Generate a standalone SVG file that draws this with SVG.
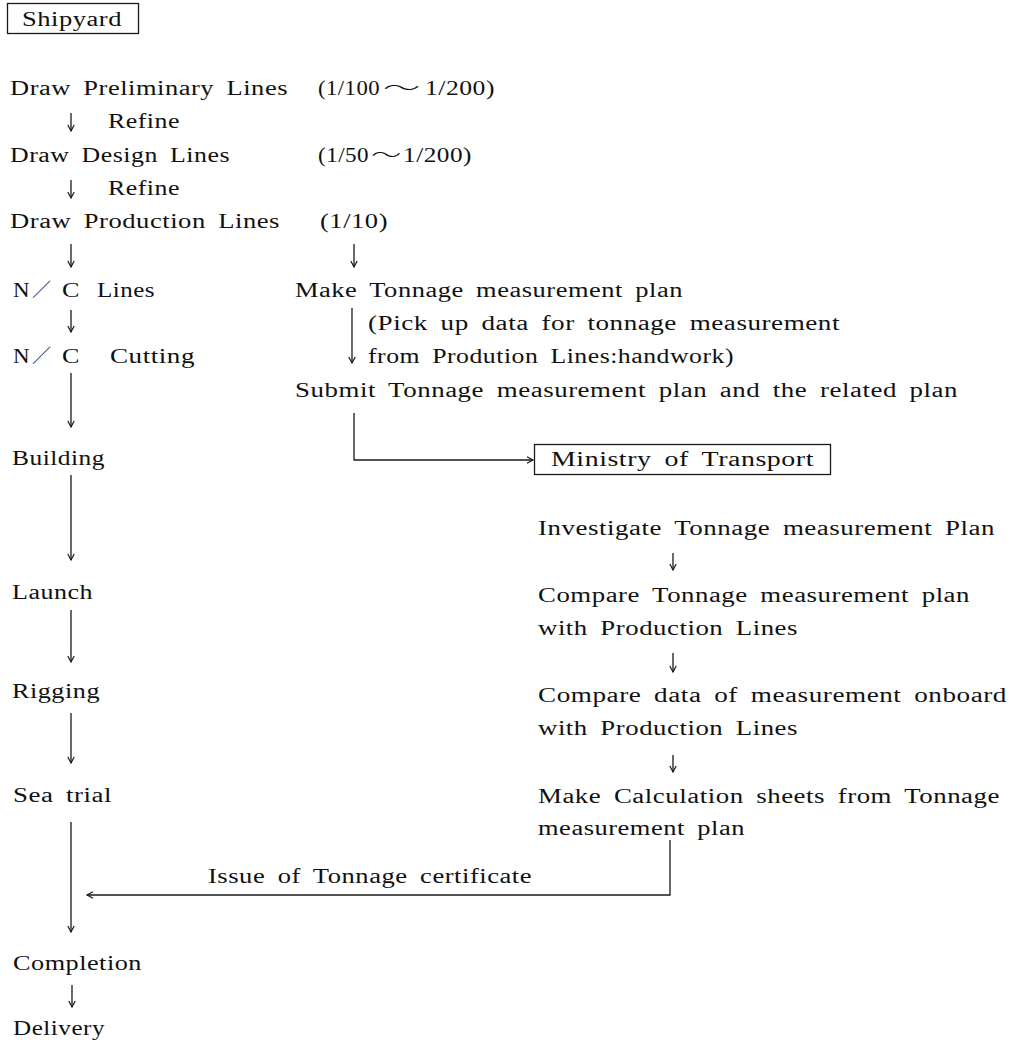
<svg xmlns="http://www.w3.org/2000/svg" width="1012" height="1045" viewBox="0 0 1012 1045">
<defs>
<style>
.t{font-family:"Liberation Serif","Times New Roman","Noto Sans CJK JP",serif;font-size:20px;fill:#111;word-spacing:4px;letter-spacing:0.4px}
.w{font-family:"Noto Sans CJK JP","Liberation Serif",serif;font-size:19px;fill:#111;font-weight:300}
.c{fill:none;stroke:#1a1a1a;stroke-width:1.3}
.box{fill:#fff;stroke:#1a1a1a;stroke-width:1.3}
</style>
<marker id="ah" viewBox="-8 -5 10 10" refX="0" refY="0" markerWidth="10" markerHeight="10" markerUnits="userSpaceOnUse" orient="auto" overflow="visible">
<path d="M-6,-3.2 L0,0 L-6,3.2" fill="none" stroke="#1a1a1a" stroke-width="1.2"/>
</marker>
</defs>
<rect width="1012" height="1045" fill="#fff"/>

<g id="connectors">
<line class="c" x1="71" y1="113" x2="71" y2="131" marker-end="url(#ah)"/>
<line class="c" x1="71" y1="180" x2="71" y2="198" marker-end="url(#ah)"/>
<line class="c" x1="71" y1="244" x2="71" y2="267" marker-end="url(#ah)"/>
<line class="c" x1="354" y1="244" x2="354" y2="267" marker-end="url(#ah)"/>
<line class="c" x1="71" y1="310" x2="71" y2="332" marker-end="url(#ah)"/>
<line class="c" x1="352" y1="308" x2="352" y2="363" marker-end="url(#ah)"/>
<line class="c" x1="71" y1="373" x2="71" y2="427" marker-end="url(#ah)"/>
<path class="c" d="M354,413 V460 H533" marker-end="url(#ah)"/>
<line class="c" x1="71" y1="475" x2="71" y2="560" marker-end="url(#ah)"/>
<line class="c" x1="71" y1="610" x2="71" y2="662" marker-end="url(#ah)"/>
<line class="c" x1="71" y1="713" x2="71" y2="763" marker-end="url(#ah)"/>
<line class="c" x1="71" y1="822" x2="71" y2="932" marker-end="url(#ah)"/>
<path class="c" d="M670,840 V895 H87" marker-end="url(#ah)"/>
<line class="c" x1="72" y1="985" x2="72" y2="1007" marker-end="url(#ah)"/>
<line class="c" x1="673" y1="553" x2="673" y2="570" marker-end="url(#ah)"/>
<line class="c" x1="673" y1="653" x2="673" y2="672" marker-end="url(#ah)"/>
<line class="c" x1="673" y1="755" x2="673" y2="772" marker-end="url(#ah)"/>
</g>

<g id="shipyard">
<rect class="box" x="7.5" y="3.5" width="131" height="30"/>
<text class="t" x="22" y="26" textLength="100" lengthAdjust="spacingAndGlyphs">Shipyard</text>
</g>

<g id="preliminary">
<text class="t" x="10" y="95" textLength="278" lengthAdjust="spacingAndGlyphs">Draw Preliminary Lines</text>
<text class="t" y="95"><tspan x="318" textLength="62" lengthAdjust="spacingAndGlyphs">(1/100</tspan><tspan class="w" x="383" textLength="38" lengthAdjust="spacingAndGlyphs">～</tspan><tspan x="425" textLength="70" lengthAdjust="spacingAndGlyphs">1/200)</tspan></text>
</g>
<g id="refine1"><text class="t" x="108" y="128" textLength="72" lengthAdjust="spacingAndGlyphs">Refine</text></g>

<g id="design">
<text class="t" x="10" y="162" textLength="220" lengthAdjust="spacingAndGlyphs">Draw Design Lines</text>
<text class="t" y="162"><tspan x="318" textLength="51" lengthAdjust="spacingAndGlyphs">(1/50</tspan><tspan class="w" x="371" textLength="31" lengthAdjust="spacingAndGlyphs">～</tspan><tspan x="403" textLength="69" lengthAdjust="spacingAndGlyphs">1/200)</tspan></text>
</g>
<g id="refine2"><text class="t" x="108" y="195" textLength="72" lengthAdjust="spacingAndGlyphs">Refine</text></g>

<g id="production">
<text class="t" x="10" y="228" textLength="270" lengthAdjust="spacingAndGlyphs">Draw Production Lines</text>
<text class="t" x="320" y="228" textLength="68" lengthAdjust="spacingAndGlyphs">(1/10)</text>
</g>

<g id="nc-lines">
<text class="t" y="297"><tspan x="13" textLength="17" lengthAdjust="spacingAndGlyphs">N</tspan><tspan class="w" x="32">／</tspan><tspan x="62" textLength="18" lengthAdjust="spacingAndGlyphs">C</tspan><tspan x="97" textLength="58" lengthAdjust="spacingAndGlyphs">Lines</tspan></text>
</g>
<g id="nc-cutting">
<text class="t" y="363"><tspan x="13" textLength="17" lengthAdjust="spacingAndGlyphs">N</tspan><tspan class="w" x="32">／</tspan><tspan x="62" textLength="18" lengthAdjust="spacingAndGlyphs">C</tspan><tspan x="110" textLength="85" lengthAdjust="spacingAndGlyphs">Cutting</tspan></text>
</g>

<g id="make-tonnage">
<text class="t" x="295" y="297" textLength="388" lengthAdjust="spacingAndGlyphs">Make Tonnage measurement plan</text>
<text class="t" x="368" y="330" textLength="472" lengthAdjust="spacingAndGlyphs">(Pick up data for tonnage measurement</text>
<text class="t" x="368" y="363" textLength="366" lengthAdjust="spacingAndGlyphs">from Prodution Lines:handwork)</text>
</g>
<g id="submit">
<text class="t" x="295" y="397" textLength="663" lengthAdjust="spacingAndGlyphs">Submit Tonnage measurement plan and the related plan</text>
</g>
<g id="ministry">
<rect class="box" x="534.5" y="444.5" width="296" height="30"/>
<text class="t" x="551" y="466" textLength="263" lengthAdjust="spacingAndGlyphs">Ministry of Transport</text>
</g>

<g id="building"><text class="t" x="12" y="465" textLength="93" lengthAdjust="spacingAndGlyphs">Building</text></g>
<g id="launch"><text class="t" x="12" y="599" textLength="81" lengthAdjust="spacingAndGlyphs">Launch</text></g>
<g id="rigging"><text class="t" x="12" y="698" textLength="88" lengthAdjust="spacingAndGlyphs">Rigging</text></g>
<g id="sea-trial"><text class="t" x="13" y="802" textLength="99" lengthAdjust="spacingAndGlyphs">Sea trial</text></g>
<g id="completion"><text class="t" x="13" y="970" textLength="129" lengthAdjust="spacingAndGlyphs">Completion</text></g>
<g id="delivery"><text class="t" x="13" y="1035" textLength="92" lengthAdjust="spacingAndGlyphs">Delivery</text></g>

<g id="investigate"><text class="t" x="538" y="535" textLength="457" lengthAdjust="spacingAndGlyphs">Investigate Tonnage measurement Plan</text></g>
<g id="compare-plan">
<text class="t" x="538" y="602" textLength="432" lengthAdjust="spacingAndGlyphs">Compare Tonnage measurement plan</text>
<text class="t" x="538" y="635" textLength="260" lengthAdjust="spacingAndGlyphs">with Production Lines</text>
</g>
<g id="compare-data">
<text class="t" x="538" y="702" textLength="469" lengthAdjust="spacingAndGlyphs">Compare data of measurement onboard</text>
<text class="t" x="538" y="735" textLength="260" lengthAdjust="spacingAndGlyphs">with Production Lines</text>
</g>
<g id="calc-sheets">
<text class="t" x="538" y="803" textLength="462" lengthAdjust="spacingAndGlyphs">Make Calculation sheets from Tonnage</text>
<text class="t" x="538" y="835" textLength="207" lengthAdjust="spacingAndGlyphs">measurement plan</text>
</g>
<g id="certificate-label"><text class="t" x="208" y="883" textLength="324" lengthAdjust="spacingAndGlyphs">Issue of Tonnage certificate</text></g>
</svg>
